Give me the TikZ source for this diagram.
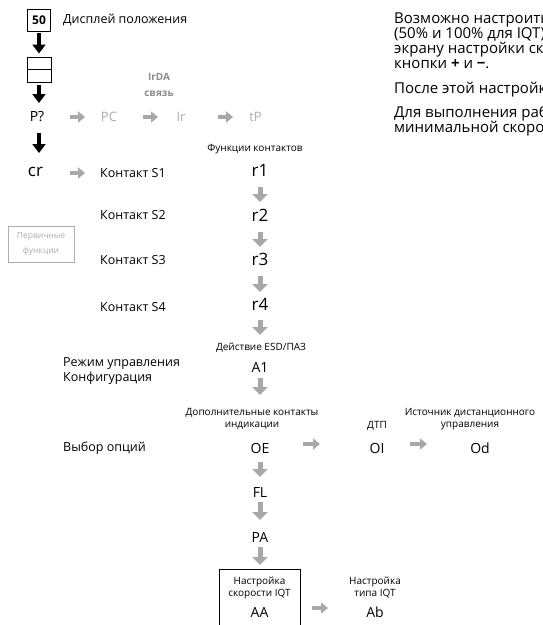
\documentclass[tikz,border=0pt]{standalone}
\usepackage{fontspec}
\setmainfont{Open Sans}
\usetikzlibrary{arrows.meta}
\definecolor{garr}{HTML}{A8A8A8}
\definecolor{gtxt}{HTML}{ADADAD}
\definecolor{btxt}{HTML}{8C8C8C}
\tikzset{
  lbl/.style={inner sep=0pt, font=\fontsize{12.5}{14}\selectfont},
  rtxt/.style={inner sep=0pt, anchor=base west, font=\fontsize{15}{15}\selectfont},
  code/.style={inner sep=0pt, font=\fontsize{14}{16}\selectfont},
  bigcode/.style={inner sep=0pt, font=\fontsize{17}{19}\selectfont},
  small/.style={inner sep=0pt, align=center, font=\fontsize{10}{12}\selectfont},
  gcode/.style={inner sep=0pt, text=gtxt, font=\fontsize{13}{15}\selectfont},
  blk/.style={line width=4.5pt, -{Triangle[width=13pt,length=9pt]}},
  gdown/.style={draw=garr, line width=5pt, -{Triangle[width=15pt,length=8pt]}},
  gright/.style={draw=garr, line width=4.5pt, -{Triangle[width=11pt,length=7pt]}},
  frame/.style={draw, line width=0.8pt, inner sep=0pt},
}
\begin{document}
\begin{tikzpicture}[x=1pt,y=-1pt]
\useasboundingbox (0,0) rectangle (542,625);
\clip (0,0) rectangle (542,625);
\fill[white] (0,0) rectangle (542,625);

% left column
\node[frame, minimum width=23pt, minimum height=22pt, font=\bfseries\fontsize{12}{14}\selectfont] (b50) at (39,20) {50};
\node[lbl, anchor=base west] (disp) at (63,23.5) {Дисплей положения};
\node[frame, minimum width=24pt, minimum height=25pt] (scr) at (39,69.5) {};
\draw[line width=0.8pt] (scr.west) -- (scr.east);
\node[code] (P) at (37,117) {P?};
\node[bigcode] (cr) at (35.5,172) {cr};

\draw[blk, shorten <=13pt, shorten >=16pt] (b50.center) -- (scr.center);
\draw[blk, shorten <=15.5pt, shorten >=14pt] (scr.center) -- (scr.center |- P.center);
\draw[blk, shorten <=16pt, shorten >=19pt] (scr.center |- P.center) -- (scr.center |- cr.center);

% IrDA row
\node[small, text=btxt, font=\bfseries\fontsize{10}{16}\selectfont] (irda) at (159,85) {IrDA\\связь};
\node[gcode] (PC) at (109,117) {PC};
\node[gcode] (Ir) at (181,117) {Ir};
\node[gcode] (tP) at (255.5,117) {tP};
\draw[gright, shorten <=33pt, shorten >=24pt] (P.center) -- (PC.center);
\draw[gright, shorten <=34pt, shorten >=23pt] (PC.center) -- (Ir.center);
\draw[gright, shorten <=37pt, shorten >=22.5pt] (Ir.center) -- (tP.center);

% contacts
\node[small] (func) at (255,149) {Функции контактов};
\node[lbl, anchor=west] (S1) at (100,173) {Контакт S1};
\node[lbl, anchor=west] (S2) at (100,215) {Контакт S2};
\node[lbl, anchor=west] (S3) at (100,260) {Контакт S3};
\node[lbl, anchor=west] (S4) at (100,307) {Контакт S4};
\draw[gright, shorten <=34.5pt, shorten >=15pt] (cr.center |- S1.west) -- (S1.west);

\node[bigcode] (r1) at (260,170) {r1};
\node[bigcode] (r2) at (260,215) {r2};
\node[bigcode] (r3) at (260,259) {r3};
\node[bigcode] (r4) at (260,304) {r4};
\draw[gdown, shorten <=17pt, shorten >=13pt] (r1.center) -- (r2.center);
\draw[gdown, shorten <=17pt, shorten >=12pt] (r2.center) -- (r3.center);
\draw[gdown, shorten <=17pt, shorten >=12pt] (r3.center) -- (r4.center);

\node[draw=gtxt, line width=0.8pt, minimum width=66pt, minimum height=36pt, align=center,
      text=gtxt, font=\fontsize{8.5}{15}\selectfont, inner sep=0pt] (prim) at (41,244) {Первичные\\функции};

% ESD
\node[small] (act) at (261,348) {Действие ESD/ПАЗ};
\draw[gdown, shorten <=16pt, shorten >=13pt] (r4.center) -- (r4.center |- act.center);
\node[lbl, anchor=base west] (mode) at (63,366) {Режим управления};
\node[lbl, anchor=base west] (conf) at (63,381) {Конфигурация};
\node[code] (A1) at (260,367) {A1};

% options
\node[small] (dop) at (252,419) {Дополнительные контакты\\индикации};
\node[lbl, anchor=west] (opt) at (63,448) {Выбор опций};
\node[code] (OE) at (260,448) {OE};
\draw[gdown, shorten <=11pt, shorten >=24pt] (A1.center) -- (A1.center |- dop.center);
\node[small] (dtp) at (377,426) {ДТП};
\node[code] (OI) at (377,448) {OI};
\node[small] (ist) at (470,419) {Источник дистанционного\\управления};
\node[code] (Od) at (480,448) {Od};
\draw[gright, shorten <=43pt, shorten >=57pt] ([yshift=4pt]OE.center) -- ([yshift=4pt]OI.center);
\draw[gright, shorten <=33pt, shorten >=53pt] ([yshift=4pt]OI.center) -- ([yshift=4pt]Od.center);

\node[code] (FL) at (260,492) {FL};
\node[code] (PA) at (260,537) {PA};
\draw[gdown, shorten <=14pt, shorten >=15pt] (OE.center) -- (FL.center);
\draw[gdown, shorten <=10pt, shorten >=17pt] (FL.center) -- (PA.center);

% IQT
\node[frame, minimum width=81pt, minimum height=80pt, anchor=north] (aabox) at (259.5,569) {};
\draw[gdown, shorten <=10pt, shorten >=4pt] (PA.center) -- (PA.center |- aabox.north);
\node[small] (spd) at (259.5,587.5) {Настройка\\скорости IQT};
\node[code] (AA) at (259.5,612) {AA};
\node[small] (typ) at (375,587.5) {Настройка\\типа IQT};
\node[code] (Ab) at (375,612) {Ab};
\draw[gright, shorten <=52.5pt, shorten >=47pt] ([yshift=4pt]AA.center) -- ([yshift=4pt]Ab.center);

% right text
\node[rtxt] (t1) at (394,23) {Возможно настроить};
\node[rtxt] (t2) at (394,38) {(50\% и 100\% для IQT)};
\node[rtxt] (t3) at (394,53) {экрану настройки скорости};
\node[rtxt] (t4) at (394,68) {кнопки \textbf{+} и \textbf{−}.};
\node[rtxt] (t5) at (394,93) {После этой настройки};
\node[rtxt] (t6) at (394,117) {Для выполнения работы};
\node[rtxt] (t7) at (394,132) {минимальной скорости};
\end{tikzpicture}
\end{document}
